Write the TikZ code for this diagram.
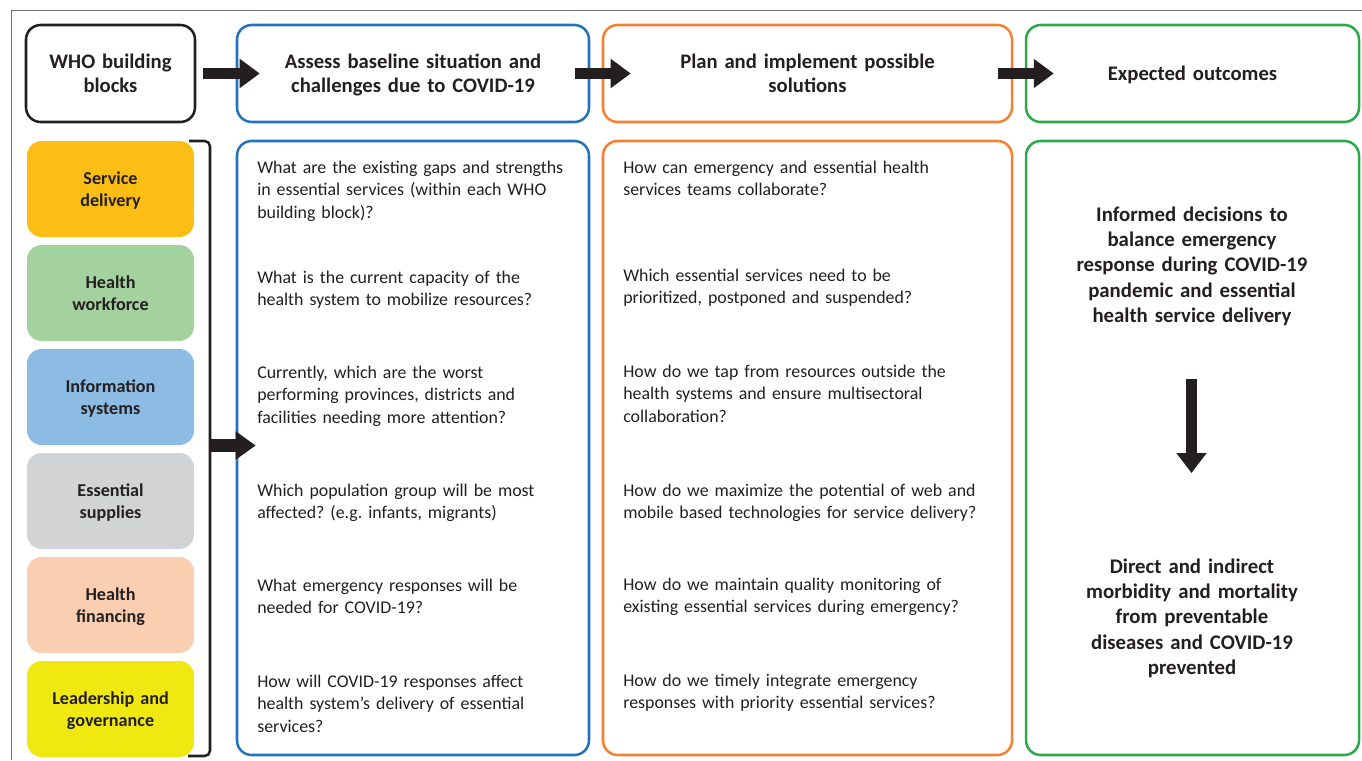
\documentclass[tikz,border=0pt]{standalone}
\usepackage{fontspec}
\setmainfont{Carlito}
\usetikzlibrary{arrows.meta,fit}

\definecolor{ink}{HTML}{231F20}
\definecolor{framegray}{HTML}{707070}
\definecolor{cblue}{RGB}{36,113,188}
\definecolor{corange}{RGB}{244,128,50}
\definecolor{cgreen}{RGB}{46,168,74}
\definecolor{fservice}{HTML}{FCBE14}
\definecolor{fworkforce}{HTML}{A3D29F}
\definecolor{finfo}{HTML}{8CBBE3}
\definecolor{fsupplies}{HTML}{D1D3D4}
\definecolor{ffinance}{HTML}{FACEB0}
\definecolor{flead}{HTML}{EFE811}

\frenchspacing
\begin{document}
% one unit = one pixel of a 1362 x 760 canvas, y pointing down
\begin{tikzpicture}[x=0.75pt, y=-0.75pt,
  every node/.style={text=ink},
  frameline/.style={draw=framegray, line width=1.1pt},
  box/.style={draw=#1, line width=1.9pt, rounded corners=11pt, inner sep=0pt},
  block/.style={fill=#1, rounded corners=11pt, inner sep=0pt},
  flow/.style={draw=ink, line width=8.25pt, -{Triangle[length=15pt,width=21pt]}},
  headtext/.style={font=\bfseries\fontsize{15.5pt}{18pt}\selectfont, align=center,
    text width=250pt, anchor=base, inner sep=0pt},
  blocktext/.style={font=\bfseries\fontsize{13.6pt}{16.5pt}\selectfont, align=center,
    text width=120pt, anchor=base, inner sep=0pt},
  question/.style={font=\fontsize{13.4pt}{16.9pt}\selectfont, align=left,
    text width=290pt, anchor=base west, inner sep=0pt},
  outcome/.style={font=\bfseries\fontsize{15.6pt}{19.1pt}\selectfont, align=center,
    text width=245pt, anchor=base, inner sep=0pt},
]
\useasboundingbox (0,0) rectangle (1362,760);

% outer frame (top and left edges)
\draw[frameline] (11.5,760) -- (11.5,10.5) -- (1362,10.5);

% header row
\node[box=ink, fit={(26,25) (195,122)}] (who) {};
\node[box=cblue, fit={(237,25) (589,122)}] (assess) {};
\node[box=corange, fit={(603,25) (1012,122)}] (plan) {};
\node[box=cgreen, fit={(1026,25) (1359,122)}] (expect) {};

\node[headtext] (whot) at (110.5,68) {WHO building\\blocks};
\node[headtext] (assesst) at (413,68) {Assess baseline situation and\\challenges due to COVID-19};
\node[headtext] (plant) at (807.5,68) {Plan and implement possible\\solutions};
\node[headtext] (expectt) at (1192.5,80) {Expected outcomes};

\draw[flow] ([xshift=5.25pt]who.east) -- ([xshift=18pt]assess.west);
\draw[flow] ([xshift=-11.25pt]assess.east) -- ([xshift=21.75pt]plan.west);
\draw[flow] ([xshift=-11.25pt]plan.east) -- ([xshift=21.75pt]expect.west);

% WHO building blocks
\node[block=fservice,   fit={(27,141) (194,237)}] (b1) {};
\node[block=fworkforce, fit={(27,245) (194,341)}] (b2) {};
\node[block=finfo,      fit={(27,349) (194,445)}] (b3) {};
\node[block=fsupplies,  fit={(27,453) (194,549)}] (b4) {};
\node[block=ffinance,   fit={(27,557) (194,653)}] (b5) {};
\node[block=flead,      fit={(27,661) (194,757)}] (b6) {};

\node[blocktext] (b1t) at (110.5,184) {Service\\delivery};
\node[blocktext] (b2t) at (110.5,288) {Health\\workforce};
\node[blocktext] (b3t) at (110.5,392) {Information\\systems};
\node[blocktext] (b4t) at (110.5,496) {Essential\\supplies};
\node[blocktext] (b5t) at (110.5,600) {Health\\financing};
\node[blocktext] (b6t) at (110.5,704) {Leadership and\\governance};

% bracket grouping the blocks
\coordinate (brtop) at (189,141);
\coordinate (brbot) at (188,756);
\coordinate (brmid) at (210,445.5);
\draw[ink, line width=1.9pt, rounded corners=4pt]
  (brtop) -- (210,141) -- (210,756) -- (brbot);

% lower columns
\node[box=cblue, fit={(237,141) (589,755)}] (qassess) {};
\node[box=corange, fit={(603,141) (1012,755)}] (qplan) {};
\node[box=cgreen, fit={(1026,141) (1359,755)}] (qexpect) {};

\draw[draw=ink, line width=9.75pt, -{Triangle[length=15pt,width=20.25pt]}]
  (brmid) -- ([xshift=15pt]qassess.west |- brmid);

% baseline questions
\node[question] (a1) at (257,173) {What are the existing gaps and strengths\\in essential services (within each WHO\\building block)?};
\node[question] (a2) at (257,283) {What is the current capacity of the\\health system to mobilize resources?};
\node[question] (a3) at (257,378) {Currently, which are the worst\\performing provinces, districts and\\facilities needing more attention?};
\node[question] (a4) at (257,496) {Which population group will be most\\affected? (e.g. infants, migrants)};
\node[question] (a5) at (257,591) {What emergency responses will be\\needed for COVID-19?};
\node[question] (a6) at (257,687) {How will COVID-19 responses affect\\health system’s delivery of essential\\services?};

% solution questions
\node[question] (p1) at (623,173) {How can emergency and essential health\\services teams collaborate?};
\node[question] (p2) at (623,281) {Which essential services need to be\\prioritized, postponed and suspended?};
\node[question] (p3) at (623,377) {How do we tap from resources outside the\\health systems and ensure multisectoral\\collaboration?};
\node[question] (p4) at (623,496) {How do we maximize the potential of web and\\mobile based technologies for service delivery?};
\node[question] (p5) at (623,590) {How do we maintain quality monitoring of\\existing essential services during emergency?};
\node[question] (p6) at (623,686) {How do we timely integrate emergency\\responses with priority essential services?};

% outcomes
\node[outcome] (o1) at (1192,221) {Informed decisions to\\balance emergency\\response during COVID-19\\pandemic and essential\\health service delivery};
\node[outcome] (o2) at (1192,573) {Direct and indirect\\morbidity and mortality\\from preventable\\diseases and COVID-19\\prevented};

\coordinate (dtop) at (1191.5,379);
\coordinate (dtip) at (1191.5,473);
\draw[draw=ink, line width=8.25pt, -{Triangle[length=15pt,width=21.75pt]}] (dtop) -- (dtip);
\end{tikzpicture}
\end{document}
